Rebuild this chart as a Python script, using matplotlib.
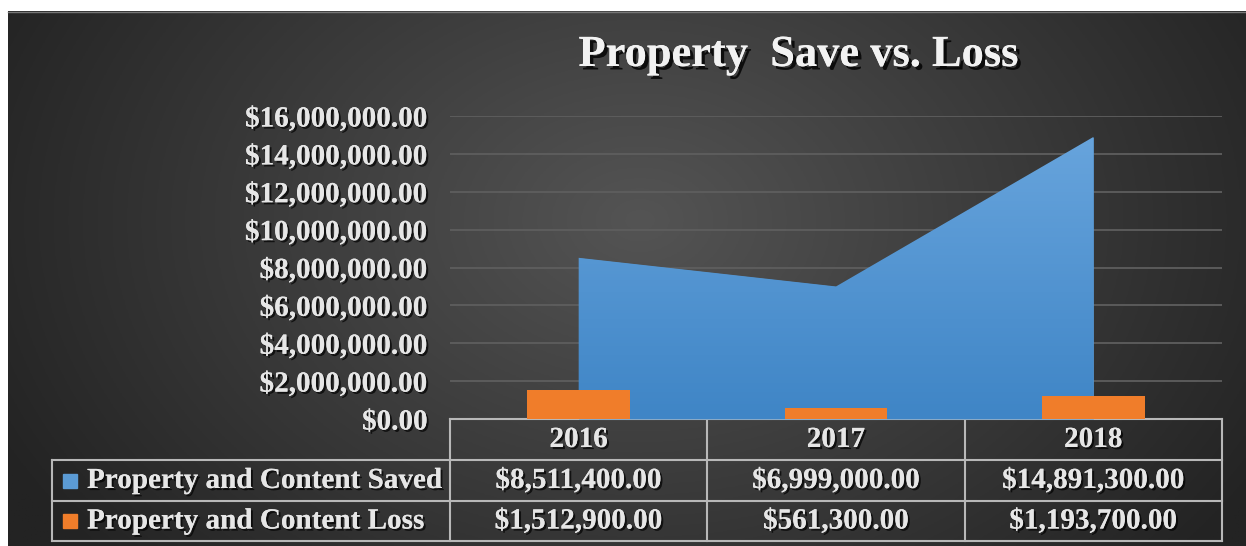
import numpy as np
import matplotlib.pyplot as plt
import matplotlib.patheffects as pe
from matplotlib.colors import to_rgb

years = ['2016', '2017', '2018']
saved = [8511400.00, 6999000.00, 14891300.00]
loss = [1512900.00, 561300.00, 1193700.00]
series_names = ['Property and Content Saved', 'Property and Content Loss']
yticks = [0, 2e6, 4e6, 6e6, 8e6, 10e6, 12e6, 14e6, 16e6]

W, H = 1246, 546
SERIF = 'Liberation Serif'
TXT = '#e6e6e6'
shadow = [pe.withSimplePatchShadow(offset=(1.5, -1.5), shadow_rgbFace='black', alpha=0.7), pe.Normal()]

fig = plt.figure(figsize=(W / 100, H / 100), dpi=100)
fig.patch.set_facecolor('white')

# background panel with radial gradient, pixel coordinates
bg = fig.add_axes([0, 0, 1, 1])
bg.set_xlim(0, W)
bg.set_ylim(H, 0)
bg.axis('off')
gx, gy = np.meshgrid(np.linspace(8, W, 400), np.linspace(11, H, 200))
d = np.sqrt(((gx - 640) / 720) ** 2 + ((gy - 220) / 520) ** 2)
t = np.clip(d, 0, 1)[..., None]
c0, c1 = np.array(to_rgb('#545454')), np.array(to_rgb('#232323'))
bg.imshow(c0 * (1 - t) + c1 * t, extent=(8, W, H, 11), aspect='auto', zorder=0)
bg.plot([8, W], [11.5, 11.5], color='#777777', lw=1, zorder=1)

# title
title = 'Property  Save vs. Loss'
bg.text(799, 55, title, ha='center', va='center', fontsize=32,
        fontweight='bold', family=SERIF, color='#f2f2f2',
        path_effects=[pe.withSimplePatchShadow(offset=(2.5, -2.5), shadow_rgbFace='black', alpha=0.8), pe.Normal()],
        zorder=5)

# main chart
x0, x1, ytop, ybot = 450, 1222, 116, 419
ax = fig.add_axes([x0 / W, 1 - ybot / H, (x1 - x0) / W, (ybot - ytop) / H])
ax.patch.set_alpha(0)
x = np.arange(len(years))
ax.set_xlim(-0.5, len(years) - 0.5)
ax.set_ylim(0, 16e6)
for s in ax.spines.values():
    s.set_visible(False)
ax.set_xticks([])
ax.set_yticks(yticks)
ax.set_yticklabels(['${:,.2f}'.format(v) for v in yticks])
ax.tick_params(axis='y', length=0, pad=16)
for lab in ax.get_yticklabels():
    lab.set_fontfamily(SERIF)
    lab.set_fontweight('bold')
    lab.set_fontsize(21)
    lab.set_color(TXT)
    lab.set_path_effects(shadow)
for v in yticks[1:]:
    ax.axhline(v, color='#5e5e5e', lw=1.3, zorder=1)

area = ax.fill_between(x, saved, color='#5b9bd5', lw=0, zorder=2)
grad = np.linspace(0, 1, 100)[:, None, None]
top, bot = np.array(to_rgb('#6aa6de')), np.array(to_rgb('#3f85c6'))
im = ax.imshow(top * (1 - grad) + bot * grad, extent=(-0.5, 2.5, 0, 16e6), aspect='auto', zorder=3)
im.set_clip_path(area.get_paths()[0], transform=ax.transData)
ax.bar(x, loss, width=0.4, color='#f07d2a', zorder=4)

# data table below the chart
cw = (x1 - x0) / len(years)
rows = [419, 460, 501, 541]
lx = 52
lc = '#b8b8b8'
bg.plot([x0, x1], [rows[0], rows[0]], color=lc, lw=1.5, zorder=5)
for r in rows[1:]:
    bg.plot([lx, x1], [r, r], color=lc, lw=1.5, zorder=5)
bg.plot([lx, lx], [rows[1], rows[3]], color=lc, lw=1.5, zorder=5)
for i in range(len(years) + 1):
    bg.plot([x0 + i * cw, x0 + i * cw], [rows[0], rows[3]], color=lc, lw=1.5, zorder=5)

tkw = dict(fontsize=21, fontweight='bold', family=SERIF, color=TXT, path_effects=shadow, zorder=6, va='center')
for i, yr in enumerate(years):
    cx = x0 + (i + 0.5) * cw
    bg.text(cx, (rows[0] + rows[1]) / 2, yr, ha='center', **tkw)
    bg.text(cx, (rows[1] + rows[2]) / 2, '${:,.2f}'.format(saved[i]), ha='center', **tkw)
    bg.text(cx, (rows[2] + rows[3]) / 2, '${:,.2f}'.format(loss[i]), ha='center', **tkw)

for j, (name, col) in enumerate(zip(series_names, ['#5b9bd5', '#f07d2a'])):
    cy = (rows[j + 1] + rows[j + 2]) / 2
    bg.add_patch(plt.Rectangle((63, cy - 7), 14, 14, color=col, zorder=6))
    bg.text(87, cy, name, ha='left', **tkw)

fig.savefig('out.png', dpi=100)
